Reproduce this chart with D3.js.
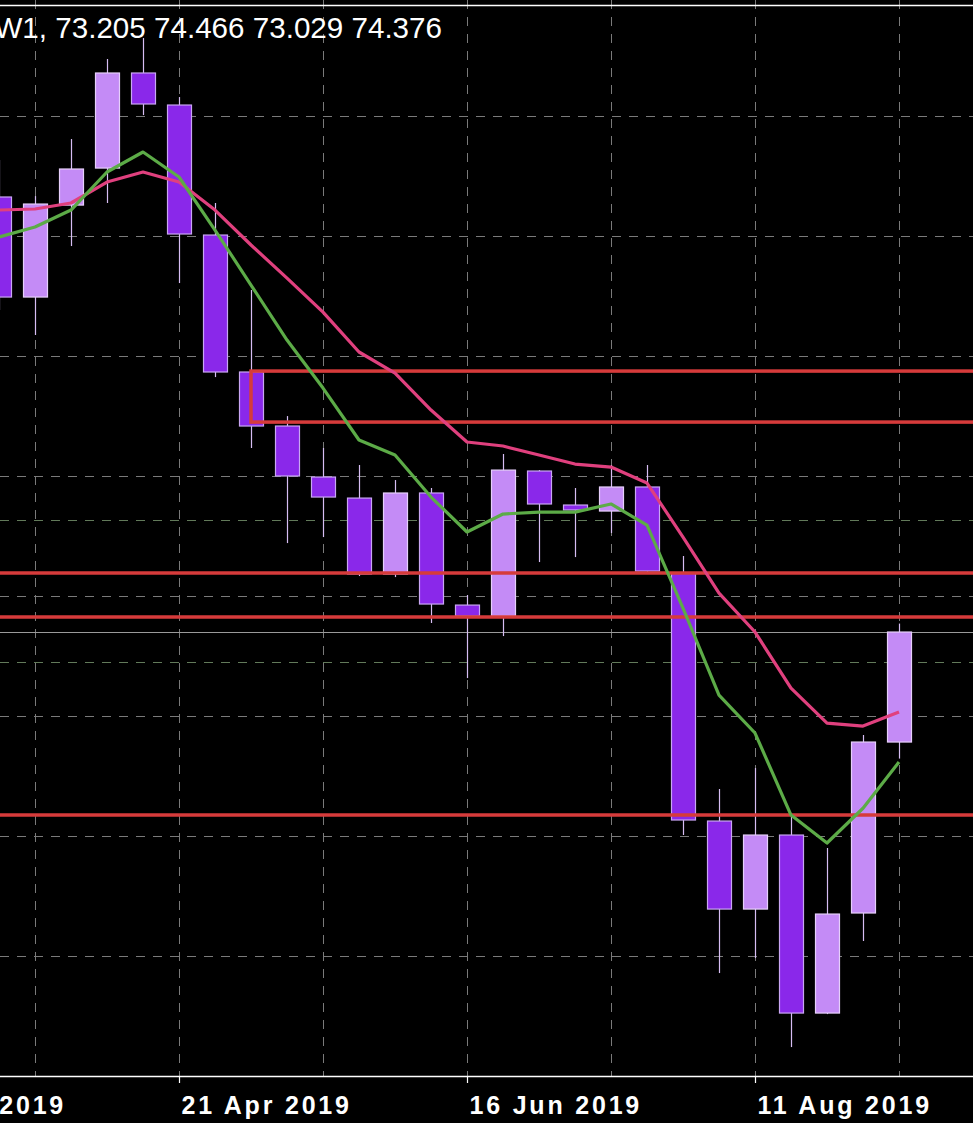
<!DOCTYPE html>
<html>
<head>
<meta charset="utf-8">
<script src="https://cdn.jsdelivr.net/npm/d3@7"></script>
<style>
  html, body { margin: 0; padding: 0; background: #000; overflow: hidden; }
  svg { display: block; }
</style>
</head>
<body>
<div id="chart"></div>
<script>
// Data ------------------------------------------------------------------------
const weeks = ["2019-03-17", "2019-03-24", "2019-03-31", "2019-04-07", "2019-04-14",
  "2019-04-21", "2019-04-28", "2019-05-05", "2019-05-12", "2019-05-19", "2019-05-26",
  "2019-06-02", "2019-06-09", "2019-06-16", "2019-06-23", "2019-06-30", "2019-07-07",
  "2019-07-14", "2019-07-21", "2019-07-28", "2019-08-04", "2019-08-11", "2019-08-18",
  "2019-08-25", "2019-09-01", "2019-09-08"];
const open = [79.007, 77.942, 78.921, 79.315, 80.327, 79.986, 78.602, 77.144, 76.569,
  76.026, 75.802, 74.993, 75.856, 74.663, 74.546, 76.090, 75.728, 75.664, 75.920,
  75.004, 72.364, 71.427, 72.215, 70.320, 71.385, 73.205];
const high = [79.400, 79.017, 79.624, 80.476, 80.699, 80.071, 78.943, 78.017, 76.675,
  76.335, 76.154, 75.994, 75.909, 74.770, 76.271, 76.100, 75.909, 76.154, 76.154,
  75.185, 72.705, 72.928, 72.407, 72.077, 73.280, 74.466];
const low = [77.804, 77.538, 78.485, 78.943, 79.879, 78.091, 77.090, 76.335, 75.323,
  75.387, 74.972, 74.961, 74.472, 73.886, 74.333, 75.121, 75.174, 75.430, 75.004,
  72.215, 70.746, 70.906, 69.958, 70.309, 71.087, 73.029];
const close = [77.942, 78.932, 79.305, 80.327, 79.997, 78.613, 77.144, 76.569, 76.037,
  75.813, 74.993, 75.856, 74.674, 74.546, 76.100, 75.739, 75.675, 75.920, 75.025,
  72.375, 71.427, 72.215, 70.320, 71.374, 73.205, 74.376];
const maFast = [78.581, 78.687, 78.868, 79.273, 79.486, 79.220, 78.655, 78.070, 77.484,
  76.973, 76.420, 76.260, 75.813, 75.441, 75.632, 75.653, 75.653, 75.739, 75.515,
  74.631, 73.705, 73.301, 72.428, 72.130, 72.500, 72.992];
const maSlow = [78.868, 78.879, 78.943, 79.166, 79.273, 79.166, 78.868, 78.496, 78.144,
  77.782, 77.357, 77.133, 76.739, 76.399, 76.356, 76.260, 76.164, 76.132, 75.962,
  75.387, 74.791, 74.376, 73.780, 73.407, 73.375, 73.524];

const gridPrices = [79.869, 78.591, 77.314, 76.037, 74.759, 73.482, 72.204, 70.927];
const dimLevels = [75.568, 74.057];
const redLevels = [75.004, 74.536, 72.428];
const zone = { from: "2019-05-05", top: 77.154, bottom: 76.611 };
const bidPrice = 74.376;
const gridDates = ["2019-03-24", "2019-04-21", "2019-05-19", "2019-06-16", "2019-07-14",
  "2019-08-11", "2019-09-08"];
const labelDates = ["2019-02-24", "2019-04-21", "2019-06-16", "2019-08-11"];
const title = "W1, 73.205 74.466 73.029 74.376";

// Setup -----------------------------------------------------------------------
const width = 973;
const height = 1123;
const axisY = 1076;
const parse = d3.utcParse("%Y-%m-%d");

const candles = weeks.map((w, i) => ({
  date: parse(w), o: open[i], h: high[i], l: low[i], c: close[i]
}));

const x = d3.scaleUtc()
  .domain([parse(weeks[0]), parse(weeks[weeks.length - 1])])
  .range([-1, 899]);

const y = d3.scaleLinear()
  .domain([69.650, 81.104])
  .range([axisY, 0]);

const svg = d3.select("#chart")
  .append("svg")
  .attr("width", width)
  .attr("height", height);

svg.append("rect")
  .attr("width", width)
  .attr("height", height)
  .attr("fill", "#000");

// Grid ------------------------------------------------------------------------
const grid = svg.append("g").attr("stroke-dasharray", "9,8").attr("stroke-width", 1);

grid.selectAll(".hgrid")
  .data(gridPrices)
  .enter()
  .append("line")
  .attr("x1", 0)
  .attr("x2", width)
  .attr("y1", d => Math.round(y(d)) + 0.5)
  .attr("y2", d => Math.round(y(d)) + 0.5)
  .attr("stroke", "#7a7a7a");

grid.selectAll(".dim")
  .data(dimLevels)
  .enter()
  .append("line")
  .attr("x1", 0)
  .attr("x2", width)
  .attr("y1", d => Math.round(y(d)) + 0.5)
  .attr("y2", d => Math.round(y(d)) + 0.5)
  .attr("stroke", "#627a5a");

grid.selectAll(".vgrid")
  .data(gridDates.map(parse))
  .enter()
  .append("line")
  .attr("x1", d => Math.round(x(d)) + 0.5)
  .attr("x2", d => Math.round(x(d)) + 0.5)
  .attr("y1", 0)
  .attr("y2", axisY)
  .attr("stroke", "#7a7a7a");

// Bid line
svg.append("line")
  .attr("x1", 0)
  .attr("x2", width)
  .attr("y1", Math.round(y(bidPrice)) + 0.5)
  .attr("y2", Math.round(y(bidPrice)) + 0.5)
  .attr("stroke", "#9a9a9a")
  .attr("stroke-width", 1);

// Candles ---------------------------------------------------------------------
const bodyW = 24;
const cg = svg.append("g");

cg.selectAll(".wick")
  .data(candles)
  .enter()
  .append("line")
  .attr("x1", d => Math.round(x(d.date)) + 0.5)
  .attr("x2", d => Math.round(x(d.date)) + 0.5)
  .attr("y1", d => y(d.h))
  .attr("y2", d => y(d.l))
  .attr("stroke", "#d6bdf3")
  .attr("stroke-width", 1.2);

cg.selectAll(".body")
  .data(candles)
  .enter()
  .append("rect")
  .attr("x", d => Math.round(x(d.date)) - bodyW / 2 + 0.5)
  .attr("y", d => y(Math.max(d.o, d.c)))
  .attr("width", bodyW)
  .attr("height", d => Math.max(1, Math.abs(y(d.o) - y(d.c))))
  .attr("fill", d => d.c >= d.o ? "#c48bf6" : "#8a28ea")
  .attr("stroke", d => d.c >= d.o ? "#e6cffb" : "#c9a6f3")
  .attr("stroke-width", 1.2);

// Levels ----------------------------------------------------------------------
const red = "#d63b3b";

svg.selectAll(".level")
  .data(redLevels)
  .enter()
  .append("line")
  .attr("x1", 0)
  .attr("x2", width)
  .attr("y1", d => y(d))
  .attr("y2", d => y(d))
  .attr("stroke", red)
  .attr("stroke-width", 3.5);

svg.append("rect")
  .attr("x", x(parse(zone.from)))
  .attr("y", y(zone.top))
  .attr("width", width + 20 - x(parse(zone.from)))
  .attr("height", y(zone.bottom) - y(zone.top))
  .attr("fill", "none")
  .attr("stroke", red)
  .attr("stroke-width", 3.5);

// Moving averages -------------------------------------------------------------
const line = d3.line()
  .x((d, i) => x(candles[i].date))
  .y(d => y(d));

svg.append("path")
  .attr("d", line(maSlow))
  .attr("fill", "none")
  .attr("stroke", "#e0407e")
  .attr("stroke-width", 3.2)
  .attr("stroke-linejoin", "round");

svg.append("path")
  .attr("d", line(maFast))
  .attr("fill", "none")
  .attr("stroke", "#5cab47")
  .attr("stroke-width", 3.2)
  .attr("stroke-linejoin", "round");

// Axes and title --------------------------------------------------------------
svg.append("line")
  .attr("x1", 0)
  .attr("x2", width)
  .attr("y1", 5.5)
  .attr("y2", 5.5)
  .attr("stroke", "#fff")
  .attr("stroke-width", 1.5);

svg.append("line")
  .attr("x1", 0)
  .attr("x2", width)
  .attr("y1", axisY + 0.5)
  .attr("y2", axisY + 0.5)
  .attr("stroke", "#fff")
  .attr("stroke-width", 1.5);

const xAxis = svg.append("g")
  .attr("transform", `translate(0, ${axisY})`)
  .call(
    d3.axisBottom(x)
      .tickValues(labelDates.map(parse))
      .tickFormat(d3.utcFormat("%-d %b %Y"))
      .tickSize(7)
      .tickPadding(22)
  );

xAxis.select(".domain").remove();
xAxis.selectAll(".tick line").attr("stroke", "#fff").attr("stroke-width", 1.2);
xAxis.selectAll(".tick text")
  .attr("fill", "#fff")
  .attr("text-anchor", "start")
  .attr("x", 2)
  .attr("dy", "0.35em")
  .style("font-family", "'Liberation Sans', Arial, sans-serif")
  .style("font-weight", "bold")
  .style("font-size", "25px")
  .style("letter-spacing", "2.8px");

svg.append("text")
  .attr("x", 442)
  .attr("y", 38)
  .attr("text-anchor", "end")
  .attr("fill", "#fff")
  .style("font-family", "'Liberation Sans', Arial, sans-serif")
  .style("font-size", "29.6px")
  .text(title);
</script>
</body>
</html>
